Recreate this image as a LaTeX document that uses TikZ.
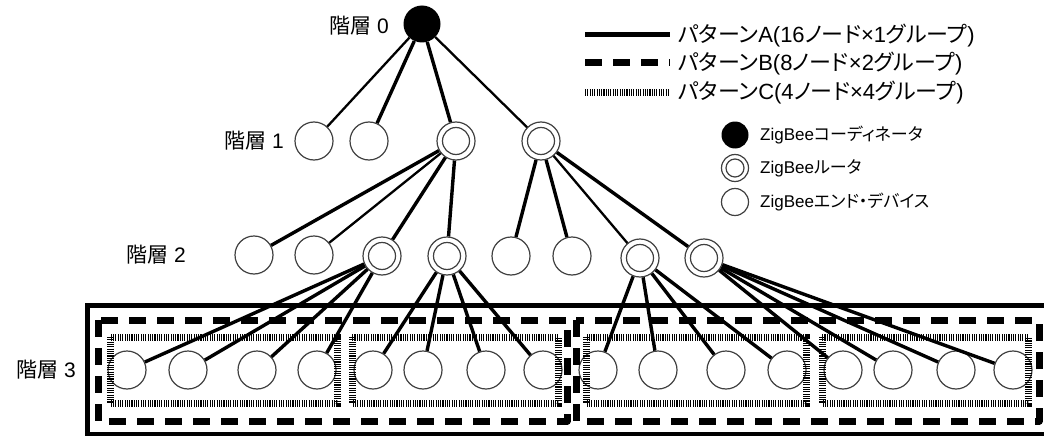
\documentclass[tikz,border=0pt]{standalone}
\usepackage{fontspec}
\setmainfont{Liberation Sans}
\newfontfamily\jp[RawFeature={+palt}]{Noto Sans CJK JP}
\begin{document}
\begin{tikzpicture}[x=1pt,y=-1pt,
  dev/.style={circle,draw=black!75,line width=1.2pt,fill=white,minimum size=38pt,inner sep=0pt},
  rtr/.style={dev,path picture={\draw[black!75,line width=1.2pt] (path picture bounding box.center) circle (13.5pt);}},
  crd/.style={circle,fill=black,minimum size=37pt,inner sep=0pt},
  sdev/.style={dev,minimum size=27pt},
  srtr/.style={sdev,path picture={\draw[black!75,line width=1.2pt] (path picture bounding box.center) circle (9pt);}},
  scrd/.style={circle,fill=black,minimum size=27pt,inner sep=0pt},
  lnk/.style={line width=3.4pt},
  lnkt/.style={line width=2.3pt},
  patA/.style={line width=5pt},
  patB/.style={line width=7pt,dash pattern=on 17pt off 11pt},
  patC/.style={line width=7pt,dash pattern=on 1.1pt off 1.2pt},
  lvl/.style={anchor=east,inner sep=0pt,font=\fontsize{21}{25}\selectfont},
  lgd/.style={anchor=west,inner sep=0pt,font=\fontsize{22}{26}\selectfont},
  lgn/.style={anchor=west,inner sep=0pt,font=\fontsize{17}{20}\selectfont}
]
\useasboundingbox (0,0) rectangle (1044,436);
\fill[white] (0,0) rectangle (1044,436);
\clip (0,0) rectangle (1044,436);

% level labels
\node[lvl] (t0) at (389,26) {{\jp 階層} 0};
\node[lvl] (t1) at (284,141) {{\jp 階層} 1};
\node[lvl] (t2) at (186,255) {{\jp 階層} 2};
\node[lvl] (t3) at (76,370) {{\jp 階層} 3};

% level 0
\node[crd] (L0) at (422,24) {};
% level 1
\node[dev] (L1a) at (314,141) {};
\node[dev] (L1b) at (369,141) {};
\node[rtr] (L1c) at (456,141) {};
\node[rtr] (L1d) at (541,141) {};
% level 2
\node[dev] (L2a) at (254,255) {};
\node[dev] (L2b) at (314,255) {};
\node[rtr] (L2c) at (382,256) {};
\node[rtr] (L2d) at (447,256) {};
\node[dev] (L2e) at (511,256) {};
\node[dev] (L2f) at (572,256) {};
\node[rtr] (L2g) at (640,258) {};
\node[rtr] (L2h) at (704,258) {};
% level 3
\foreach \n/\x in {a/127,b/188,c/257,d/317,e/373,f/423,g/486,h/543,i/598,j/658,k/726,l/787,m/843,n/893,o/956,p/1013}
  \node[dev] (L3\n) at (\x,370) {};

% pattern boxes
\draw[patA] (87,305) rectangle (1052,434);
\draw[patB,line join=round] (98,320) rectangle (567,421);
\draw[patB,line join=round] (576,320) rectangle (1039,421);
\draw[patC] (110,337) rectangle (337,403);
\draw[patC] (352,337) rectangle (558,403);
\draw[patC] (586,337) rectangle (806,403);
\draw[patC] (822,337) rectangle (1028,403);

% links level 0 -> 1
\draw[lnkt] (L0) -- (L1a);
\draw[lnk] (L0) -- (L1b);
\draw[lnk] (L0) -- (L1c);
\draw[lnkt] (L0) -- (L1d);
% level 1 -> 2
\draw[lnk] (L1c) -- (L2a);
\draw[lnkt] (L1c) -- (L2b);
\draw[lnk] (L1c) -- (L2c);
\draw[lnk] (L1c) -- (L2d);
\draw[lnk] (L1d) -- (L2e);
\draw[lnk] (L1d) -- (L2f);
\draw[lnkt] (L1d) -- (L2g);
\draw[lnk] (L1d) -- (L2h);
% level 2 -> 3
\foreach \c in {a,b,c,d} \draw[lnk] (L2c) -- (L3\c);
\foreach \c in {e,f,g,h} \draw[lnk] (L2d) -- (L3\c);
\foreach \c in {i,j,k,l} \draw[lnk] (L2g) -- (L3\c);
\foreach \c in {m,n,o,p} \draw[lnk] (L2h) -- (L3\c);

% legend: patterns
\coordinate (pa1) at (585,35); \coordinate (pa2) at (670,35);
\coordinate (pb1) at (585,63); \coordinate (pb2) at (670,63);
\coordinate (pc1) at (585,92); \coordinate (pc2) at (670,92);
\draw[patA] (pa1) -- (pa2);
\draw[patB] (pb1) -- (pb2);
\draw[patC] (pc1) -- (pc2);
\node[lgd] (ta) at (678,36) {{\jp パターン}A(16{\jp ノード}×1{\jp グループ})};
\node[lgd] (tb) at (678,64) {{\jp パターン}B(8{\jp ノード}×2{\jp グループ})};
\node[lgd] (tc) at (678,93) {{\jp パターン}C(4{\jp ノード}×4{\jp グループ})};

% legend: nodes
\node[scrd] (kc) at (735,135) {};
\node[srtr] (kr) at (735,168) {};
\node[sdev] (ke) at (735,202) {};
\node[lgn] (tkc) at (760,135) {ZigBee{\jp コーディネータ}};
\node[lgn] (tkr) at (760,168) {ZigBee{\jp ルータ}};
\node[lgn] (tke) at (760,202) {ZigBee{\jp エンド・デバイス}};
\end{tikzpicture}
\end{document}
